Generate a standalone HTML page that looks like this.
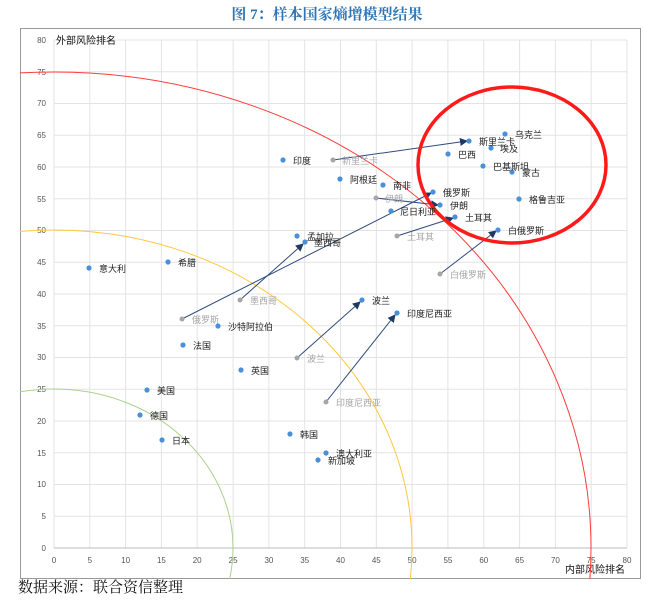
<!DOCTYPE html>
<html><head><meta charset="utf-8"><style>
html,body{margin:0;padding:0;background:#fff;width:654px;height:606px;overflow:hidden}
svg{display:block}
svg text{font-family:"Liberation Sans","Noto Sans CJK SC",sans-serif}
</style></head><body>
<svg width="654" height="606" viewBox="0 0 654 606" xmlns="http://www.w3.org/2000/svg">
<defs>
<marker id="ah" markerWidth="8" markerHeight="8" refX="7" refY="4" orient="auto" markerUnits="userSpaceOnUse"><path d="M0,0 L8,4 L0,8 z" fill="#1f3864"/></marker>
<clipPath id="cp"><rect x="20" y="28" width="621" height="551"/></clipPath>
</defs>
<text x="327" y="19" text-anchor="middle" font-size="15" font-weight="bold" fill="#2e75b6" style="font-family:'Liberation Serif','Noto Serif CJK SC',serif">图 7：样本国家熵增模型结果</text>
<rect x="20.5" y="28.5" width="620" height="550" fill="none" stroke="#999" stroke-width="1"/>
<g stroke="#e3e3e3" stroke-width="1">
<line x1="54" y1="40" x2="54" y2="548"/><line x1="89.8" y1="40" x2="89.8" y2="548"/><line x1="125.6" y1="40" x2="125.6" y2="548"/><line x1="161.4" y1="40" x2="161.4" y2="548"/><line x1="197.2" y1="40" x2="197.2" y2="548"/><line x1="233.1" y1="40" x2="233.1" y2="548"/><line x1="268.9" y1="40" x2="268.9" y2="548"/><line x1="304.7" y1="40" x2="304.7" y2="548"/><line x1="340.5" y1="40" x2="340.5" y2="548"/><line x1="376.3" y1="40" x2="376.3" y2="548"/><line x1="412.1" y1="40" x2="412.1" y2="548"/><line x1="447.9" y1="40" x2="447.9" y2="548"/><line x1="483.8" y1="40" x2="483.8" y2="548"/><line x1="519.6" y1="40" x2="519.6" y2="548"/><line x1="555.4" y1="40" x2="555.4" y2="548"/><line x1="591.2" y1="40" x2="591.2" y2="548"/><line x1="627" y1="40" x2="627" y2="548"/>
<line x1="54" y1="40" x2="627" y2="40"/><line x1="54" y1="71.8" x2="627" y2="71.8"/><line x1="54" y1="103.5" x2="627" y2="103.5"/><line x1="54" y1="135.3" x2="627" y2="135.3"/><line x1="54" y1="167" x2="627" y2="167"/><line x1="54" y1="198.8" x2="627" y2="198.8"/><line x1="54" y1="230.5" x2="627" y2="230.5"/><line x1="54" y1="262.3" x2="627" y2="262.3"/><line x1="54" y1="294" x2="627" y2="294"/><line x1="54" y1="325.8" x2="627" y2="325.8"/><line x1="54" y1="357.5" x2="627" y2="357.5"/><line x1="54" y1="389.3" x2="627" y2="389.3"/><line x1="54" y1="421" x2="627" y2="421"/><line x1="54" y1="452.8" x2="627" y2="452.8"/><line x1="54" y1="484.5" x2="627" y2="484.5"/><line x1="54" y1="516.3" x2="627" y2="516.3"/>
</g>
<line x1="54" y1="548" x2="627" y2="548" stroke="#bbb"/>
<g font-size="8" fill="#555" text-anchor="end">
<text x="46" y="43">80</text><text x="46" y="75">75</text><text x="46" y="106">70</text><text x="46" y="138">65</text><text x="46" y="170">60</text><text x="46" y="202">55</text><text x="46" y="233">50</text><text x="46" y="265">45</text><text x="46" y="297">40</text><text x="46" y="329">35</text><text x="46" y="360">30</text><text x="46" y="392">25</text><text x="46" y="424">20</text><text x="46" y="456">15</text><text x="46" y="487">10</text><text x="46" y="519">5</text><text x="46" y="551">0</text>
</g>
<g font-size="8" fill="#555" text-anchor="middle">
<text x="54" y="563">0</text><text x="89.8" y="563">5</text><text x="125.6" y="563">10</text><text x="161.4" y="563">15</text><text x="197.2" y="563">20</text><text x="233.1" y="563">25</text><text x="268.9" y="563">30</text><text x="304.7" y="563">35</text><text x="340.5" y="563">40</text><text x="376.3" y="563">45</text><text x="412.1" y="563">50</text><text x="447.9" y="563">55</text><text x="483.8" y="563">60</text><text x="519.6" y="563">65</text><text x="555.4" y="563">70</text><text x="591.2" y="563">75</text><text x="627" y="563">80</text>
</g>
<text x="56" y="44" font-size="10" fill="#111">外部风险排名</text>
<text x="625" y="573" font-size="10" fill="#111" text-anchor="end">内部风险排名</text>
<g fill="none" clip-path="url(#cp)">
<ellipse cx="54" cy="548" rx="537" ry="476" stroke="#ff3b3b" stroke-width="1"/>
<ellipse cx="54" cy="548" rx="358" ry="318" stroke="#ffc83d" stroke-width="1"/>
<ellipse cx="54" cy="548" rx="179" ry="159" stroke="#a9d18e" stroke-width="1"/>
</g>
<g stroke="#2f4b7c" stroke-width="1" marker-end="url(#ah)">
<line x1="333" y1="160" x2="467" y2="141"/>
<line x1="376" y1="198" x2="438" y2="205"/>
<line x1="397" y1="236" x2="453" y2="218"/>
<line x1="440" y1="274" x2="496" y2="231"/>
<line x1="240" y1="300" x2="303" y2="244"/>
<line x1="182" y1="319" x2="431" y2="193"/>
<line x1="297" y1="358" x2="360" y2="302"/>
<line x1="326" y1="402" x2="395" y2="315"/>
</g>
<ellipse cx="512" cy="165" rx="94" ry="78" fill="none" stroke="#ff1a1a" stroke-width="3.5"/>
<g fill="#a6a6a6">
<circle cx="333" cy="160" r="2.5"/><circle cx="376" cy="198" r="2.5"/><circle cx="397" cy="236" r="2.5"/><circle cx="440" cy="274" r="2.5"/><circle cx="240" cy="300" r="2.5"/><circle cx="182" cy="319" r="2.5"/><circle cx="297" cy="358" r="2.5"/><circle cx="326" cy="402" r="2.5"/>
</g>
<g font-size="9" fill="#a6a6a6">
<text x="342" y="164">新里兰卡</text><text x="385" y="202">伊朗</text><text x="407" y="240">土耳其</text><text x="450" y="278">白俄罗斯</text><text x="250" y="304">墨西哥</text><text x="192" y="323">俄罗斯</text><text x="307" y="362">波兰</text><text x="336" y="406">印度尼西亚</text>
</g>
<g fill="#4a90d9">
<circle cx="505" cy="134" r="2.6"/><circle cx="469" cy="141" r="2.6"/><circle cx="491" cy="148" r="2.6"/><circle cx="448" cy="154" r="2.6"/><circle cx="483" cy="166" r="2.6"/><circle cx="512" cy="172" r="2.6"/><circle cx="519" cy="199" r="2.6"/><circle cx="433" cy="192" r="2.6"/><circle cx="440" cy="205" r="2.6"/><circle cx="391" cy="211" r="2.6"/><circle cx="455" cy="217" r="2.6"/><circle cx="498" cy="230" r="2.6"/><circle cx="283" cy="160" r="2.6"/><circle cx="340" cy="179" r="2.6"/><circle cx="383" cy="185" r="2.6"/><circle cx="297" cy="236" r="2.6"/><circle cx="305" cy="242" r="2.6"/><circle cx="168" cy="262" r="2.6"/><circle cx="89" cy="268" r="2.6"/><circle cx="218" cy="326" r="2.6"/><circle cx="183" cy="345" r="2.6"/><circle cx="362" cy="300" r="2.6"/><circle cx="397" cy="313" r="2.6"/><circle cx="241" cy="370" r="2.6"/><circle cx="147" cy="390" r="2.6"/><circle cx="140" cy="415" r="2.6"/><circle cx="162" cy="440" r="2.6"/><circle cx="290" cy="434" r="2.6"/><circle cx="326" cy="453" r="2.6"/><circle cx="318" cy="460" r="2.6"/>
</g>
<g font-size="9" fill="#222">
<text x="515" y="138">乌克兰</text><text x="479" y="145">斯里兰卡</text><text x="500" y="152">埃及</text><text x="458" y="158">巴西</text><text x="493" y="170">巴基斯坦</text><text x="522" y="176">蒙古</text><text x="529" y="203">格鲁吉亚</text><text x="443" y="196">俄罗斯</text><text x="450" y="209">伊朗</text><text x="400" y="215">尼日利亚</text><text x="465" y="221">土耳其</text><text x="508" y="234">白俄罗斯</text><text x="293" y="164">印度</text><text x="350" y="183">阿根廷</text><text x="393" y="189">南非</text><text x="307" y="240">孟加拉</text><text x="314" y="246">墨西哥</text><text x="178" y="266">希腊</text><text x="99" y="272">意大利</text><text x="228" y="330">沙特阿拉伯</text><text x="193" y="349">法国</text><text x="372" y="304">波兰</text><text x="407" y="317">印度尼西亚</text><text x="251" y="374">英国</text><text x="157" y="394">美国</text><text x="150" y="419">德国</text><text x="172" y="444">日本</text><text x="300" y="438">韩国</text><text x="336" y="457">澳大利亚</text><text x="328" y="464">新加坡</text>
</g>
<text x="18" y="592" font-size="15" fill="#111" style="font-family:'Liberation Serif','Noto Serif CJK SC',serif">数据来源：联合资信整理</text>
</svg>
</body></html>
